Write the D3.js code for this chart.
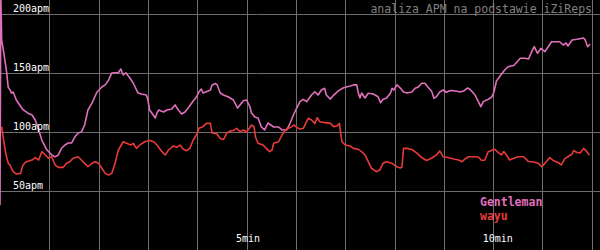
<!DOCTYPE html>
<html>
<head>
<meta charset="utf-8">
<script src="https://cdn.jsdelivr.net/npm/d3@7"></script>
<style>
  body { margin: 0; background: #000; }
  svg { display: block; }
</style>
</head>
<body>
<script>
// APM over time (time in seconds)
let gentlemanSec = [0, 1, 2, 4, 6, 8, 10, 12, 14, 16, 20, 24, 28, 34, 39, 43, 47, 51, 57, 63, 67, 71, 75, 79, 83, 87, 91, 95, 99, 103, 107, 112, 118, 124, 128, 132, 136, 140, 144, 147, 150, 153, 158, 162, 168, 172, 178, 180, 182, 189, 191, 193, 199, 203, 209, 213, 217, 221, 225, 229, 235, 239, 242, 245, 247, 251, 256, 258, 262, 264, 268, 272, 278, 284, 289, 292, 296, 300, 304, 306, 310, 314, 318, 322, 326, 333, 339, 343, 349, 353, 357, 361, 365, 369, 373, 379, 383, 387, 391, 395, 397, 402, 406, 412, 418, 426, 430, 434, 436, 438, 440, 444, 448, 454, 460, 463, 466, 470, 475, 477, 479, 483, 487, 491, 495, 501, 505, 509, 513, 517, 521, 525, 528, 531, 535, 539, 543, 548, 552, 556, 560, 564, 569, 572, 578, 585, 588, 594, 598, 601, 604, 608, 614, 618, 625, 629, 633, 639, 643, 647, 650, 654, 658, 663, 667, 671, 681, 685, 689, 691, 696, 702, 710, 712, 715, 718];
let gentlemanApm = [38, 216, 178, 170, 161, 151, 138, 136, 133, 134, 127, 123, 119, 116, 114.5, 110, 102, 93, 85, 80.6, 79, 80.6, 86.5, 89, 90.7, 90.7, 95.8, 99.2, 100, 106, 118.7, 124.7, 134, 138.2, 140, 144, 150, 150.3, 150.3, 153.5, 148.4, 150.3, 145.9, 141.6, 133.1, 132.3, 131.4, 127.2, 118.7, 112, 116.2, 118.7, 117, 118.7, 119.6, 123, 118.7, 115.3, 117, 120.4, 126.4, 129.7, 134, 136.5, 133.1, 134.2, 135.7, 140, 141.2, 140.3, 133.1, 131.4, 129.7, 127.2, 120.4, 123, 126.6, 127.2, 121.5, 116.2, 112.8, 112, 104.3, 101.8, 107.7, 104.3, 104.3, 101.8, 101.8, 107.7, 114.5, 120.4, 125.8, 127.8, 125.8, 131.4, 134.2, 131.4, 135.7, 137.1, 131.4, 128, 131.4, 135.1, 137.6, 139.1, 140, 140, 133.1, 128.9, 133.1, 128.9, 132.9, 132.3, 130, 124.9, 127.8, 128.6, 132.9, 137.1, 135.7, 140, 137.4, 134, 133.1, 134, 137.1, 138.2, 141.4, 141.4, 137.8, 134.8, 128.6, 130, 134, 135.7, 133.8, 135.3, 135, 134.6, 134, 134.8, 137.4, 136.1, 131.4, 121.5, 125.8, 127.8, 129.5, 134, 143.3, 147.1, 152.6, 155.4, 156.5, 159.4, 162.6, 162.6, 162, 168.2, 172.4, 166.8, 171, 168.2, 172.4, 176.6, 176.6, 173.8, 175.5, 173, 178.1, 178.7, 179.8, 178.1, 172.4, 174.7];

let wayuSec = [2, 4, 7, 10, 12, 16, 20, 25, 28, 32, 39, 43, 47, 51, 55, 59, 63, 67, 71, 77, 81, 85, 89, 95, 99, 103, 107, 112, 116, 120, 124, 128, 132, 136, 140, 144, 150, 154, 159, 162, 166, 170, 176, 182, 187, 191, 197, 201, 205, 211, 215, 219, 223, 227, 231, 235, 239, 242, 247, 251, 256, 258, 264, 268, 272, 276, 280, 284, 288, 292, 296, 300, 304, 306, 309, 311, 314, 320, 324, 328, 331, 333, 339, 343, 347, 351, 355, 358, 361, 365, 369, 372, 375, 379, 383, 386, 389, 395, 402, 406, 410, 413, 414, 416, 420, 426, 430, 436, 440, 444, 448, 452, 458, 462, 466, 470, 477, 483, 487, 489, 491, 495, 501, 507, 513, 519, 525, 531, 535, 539, 545, 552, 558, 562, 566, 570, 576, 582, 586, 590, 594, 598, 602, 606, 610, 613, 617, 620, 625, 630, 637, 643, 649, 655, 659, 663, 669, 673, 679, 683, 687, 691, 696, 698, 702, 706, 710, 714, 717];
let wayuApm = [104.6, 95, 82, 73.5, 72.1, 66.4, 64.4, 65, 72.1, 74.9, 76.3, 78.4, 76.3, 83.4, 80.6, 77.8, 79.1, 72.1, 70.1, 70.1, 73.5, 74.9, 77.8, 79.1, 76.3, 73.5, 70.6, 73.5, 74.9, 73.5, 69.3, 65, 63.6, 65, 73.5, 84.8, 91.8, 90.5, 89, 90.5, 86.2, 89, 91.8, 92.9, 91.8, 89, 83.4, 80.6, 84.8, 88.2, 87.1, 89, 85.4, 84.2, 86.2, 93.3, 97.5, 103.2, 104.6, 107.4, 107.4, 99.2, 98.4, 94.6, 93.7, 99.2, 100.9, 101.3, 103.2, 100.3, 101.8, 100.1, 103.9, 106, 104.6, 95.4, 90.5, 89, 86.2, 83.4, 84.8, 90.5, 91.8, 97.5, 101.8, 103.2, 104.6, 106, 104, 102.6, 103.2, 107.4, 111.7, 110.2, 107.4, 112.2, 108.8, 108, 107.4, 104.6, 105.2, 107.4, 101.8, 91.8, 89, 88.2, 86.2, 85.4, 83.4, 80.6, 74.9, 69.3, 66.4, 67.8, 73.5, 74.9, 73.5, 70.6, 69.5, 70.4, 86.2, 86.2, 85.2, 82.3, 78.4, 75.9, 77.8, 80.6, 84, 79.1, 78.4, 77.2, 76.3, 74.9, 77.2, 79.1, 79.1, 78.9, 75.9, 76.3, 83.4, 84.4, 85.4, 82.8, 80.6, 83.5, 79.7, 76.3, 77.8, 79.1, 79.1, 75, 74.6, 73.5, 70.6, 73.5, 78.4, 75.9, 74.2, 72.1, 77.2, 79.1, 81.4, 84.4, 82.7, 82.3, 86.2, 83.4, 80.6];

let apmTicks = [50, 100, 150, 200];
let minuteGrid = [1, 2, 3, 4, 5, 6, 7, 8, 9, 10, 11, 12];
let minuteLabels = [5, 10];
let players = ["Gentleman", "wayu"];
let colors = ["#e070bc", "#e83a3a"];

let width = 600, height = 250;
let mono = "'DejaVu Sans Mono', monospace";

let svg = d3.select("body").append("svg")
    .attr("width", width)
    .attr("height", height)
    .style("background", "#000");

let x = d3.scaleLinear().domain([0, 730]).range([0, width]);
let y = d3.scaleLinear().domain([0, 212]).range([height, 0]);

svg.append("clipPath").attr("id", "plot")
    .append("rect").attr("width", width).attr("height", height);

// grid
svg.selectAll(".vgrid").data(minuteGrid).enter()
    .append("line")
    .attr("x1", d => Math.round(x(d * 60)) + 0.5)
    .attr("x2", d => Math.round(x(d * 60)) + 0.5)
    .attr("y1", 0).attr("y2", height)
    .attr("stroke", "#6e6e6e");

svg.selectAll(".hgrid").data(apmTicks).enter()
    .append("line")
    .attr("x1", 0).attr("x2", width)
    .attr("y1", d => Math.round(y(d)) + 0.5)
    .attr("y2", d => Math.round(y(d)) + 0.5)
    .attr("stroke", "#6e6e6e");

// lines
let line = d3.line()
    .x(d => x(d[0]))
    .y(d => y(d[1]));

let series = [
    d3.zip(gentlemanSec, gentlemanApm),
    d3.zip(wayuSec, wayuApm)
];

svg.append("g").attr("clip-path", "url(#plot)")
    .selectAll("path").data(series).enter()
    .append("path")
    .attr("d", line)
    .attr("fill", "none")
    .attr("stroke", (d, i) => colors[i])
    .attr("stroke-width", 1.6)
    .attr("stroke-linejoin", "round");

// axis labels
svg.selectAll(".ylab").data(apmTicks).enter()
    .append("text")
    .attr("x", 13)
    .attr("y", d => y(d) - 2.5)
    .attr("fill", "#fff")
    .style("font", "10px " + mono)
    .text(d => d + "apm");

svg.selectAll(".xlab").data(minuteLabels).enter()
    .append("text")
    .attr("x", d => x(d * 60) - 10.5)
    .attr("y", 241.5)
    .attr("fill", "#fff")
    .style("font", "10px " + mono)
    .text(d => d + "min");

// title
svg.append("text")
    .attr("x", 592)
    .attr("y", 13)
    .attr("text-anchor", "end")
    .attr("fill", "#808080")
    .style("font", "11.5px " + mono)
    .text("analiza APM na podstawie iZiReps");

// legend
svg.selectAll(".legend").data(players).enter()
    .append("text")
    .attr("x", 480)
    .attr("y", (d, i) => 206 + i * 14)
    .attr("fill", (d, i) => colors[i])
    .style("font", "bold 11.5px " + mono)
    .text(d => d);
</script>
</body>
</html>
